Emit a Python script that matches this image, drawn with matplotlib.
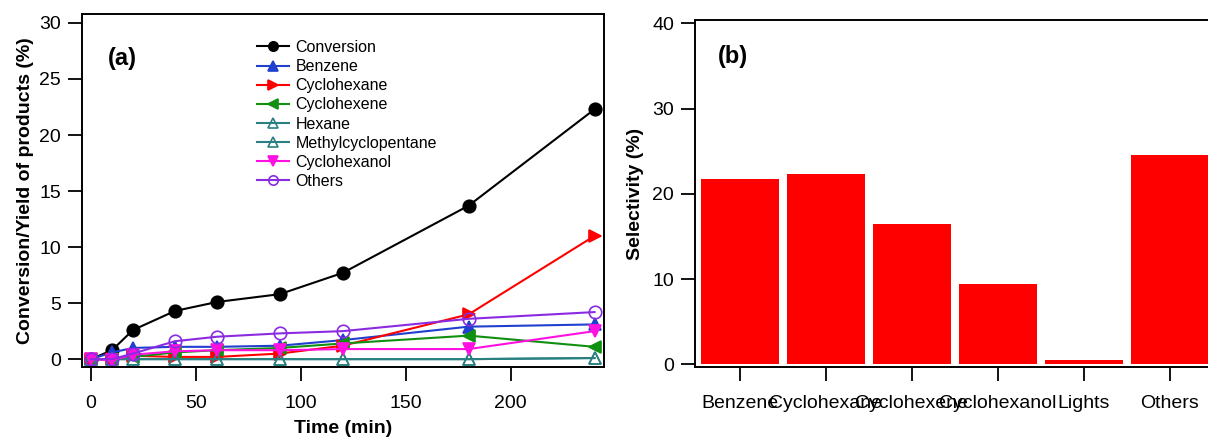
import matplotlib.pyplot as plt

plt.rcParams['font.family'] = ['Liberation Sans', 'DejaVu Sans']

# panel (a): yield vs time
time = [0, 10, 20, 40, 60, 90, 120, 180, 240]
conversion = [0.0, 0.8, 2.6, 4.3, 5.1, 5.8, 7.7, 13.7, 22.3]
benzene = [0.0, 0.6, 1.0, 1.1, 1.1, 1.2, 1.7, 2.9, 3.1]
cyclohexane = [0.0, 0.0, 0.3, 0.2, 0.2, 0.5, 1.2, 4.0, 11.0]
cyclohexene = [0.0, 0.0, 0.2, 0.6, 0.8, 1.0, 1.4, 2.1, 1.1]
hexane = [0.0, 0.0, 0.0, 0.0, 0.0, 0.0, 0.0, 0.0, 0.1]
methylcyclopentane = [0.0, 0.0, 0.0, 0.0, 0.0, 0.0, 0.0, 0.0, 0.1]
cyclohexanol = [0.0, -0.1, 0.4, 0.7, 0.8, 0.8, 0.9, 0.9, 2.5]
others = [0.0, 0.0, 0.5, 1.6, 2.0, 2.3, 2.5, 3.6, 4.2]

# panel (b): selectivity
categories = ["Benzene", "Cyclohexane", "Cyclohexene", "Cyclohexanol", "Lights", "Others"]
selectivity = [21.7, 22.3, 16.5, 9.4, 0.5, 24.6]

fig = plt.figure(figsize=(12.08, 4.38), dpi=100)
ax1 = fig.add_axes([82 / 1208, 1 - 367 / 438, (604 - 82) / 1208, (367 - 14) / 438])
ax2 = fig.add_axes([695 / 1208, 1 - 367 / 438, (1212 - 695) / 1208, (367 - 20) / 438])

series = [
    ("Conversion", conversion, "black", "o", "black"),
    ("Benzene", benzene, "#1f3fcf", "^", "#1f3fcf"),
    ("Cyclohexane", cyclohexane, "#ff0000", ">", "#ff0000"),
    ("Cyclohexene", cyclohexene, "#109010", "<", "#109010"),
    ("Hexane", hexane, "#2a8080", "^", "none"),
    ("Methylcyclopentane", methylcyclopentane, "#2a8080", "^", "none"),
    ("Cyclohexanol", cyclohexanol, "#ff10e0", "v", "#ff10e0"),
    ("Others", others, "#8a2be2", "o", "none"),
]
for name, vals, col, mk, fc in series:
    ax1.plot(time, vals, color=col, marker=mk, markersize=9, markerfacecolor=fc,
             markeredgecolor=col, markeredgewidth=1.2, linewidth=1.5, label=name)

ax1.set_xlim(-4.3, 244.5)
ax1.set_ylim(-0.7, 30.8)
ax1.set_xticks([0, 50, 100, 150, 200])
ax1.set_yticks([0, 5, 10, 15, 20, 25, 30])
ax1.set_xlabel("Time (min)", fontsize=14, fontweight="bold", labelpad=6)
ax1.set_ylabel("Conversion/Yield of products (%)", fontsize=14, fontweight="bold", labelpad=4)
ax1.text(108, 438 - 58, "(a)", transform=None, fontsize=17, fontweight="bold", va="center")
fig.legend(loc="upper left", bbox_to_anchor=(257 / 1208, 1 - 40 / 438), frameon=False,
           fontsize=11.5, handlelength=2.0, handletextpad=0.4, labelspacing=0.26,
           borderpad=0, borderaxespad=0, markerscale=0.75)

ax2.bar(range(len(categories)), selectivity, width=0.9, color="#ff0000")
ax2.set_xlim(-0.523, 5.49)
ax2.set_ylim(-0.32, 40.4)
ax2.set_xticks(range(len(categories)))
ax2.set_xticklabels(categories)
ax2.set_yticks([0, 10, 20, 30, 40])
ax2.set_ylabel("Selectivity (%)", fontsize=14, fontweight="bold", labelpad=6)
ax2.text(718, 438 - 57, "(b)", transform=None, fontsize=17, fontweight="bold", va="center")

for ax in (ax1, ax2):
    for sp in ax.spines.values():
        sp.set_linewidth(1.4)
    ax.tick_params(direction="out", length=10, width=1.3, labelsize=14, pad=5)
    ax.tick_params(axis="x", pad=10)

fig.savefig("out.png", dpi=100)
